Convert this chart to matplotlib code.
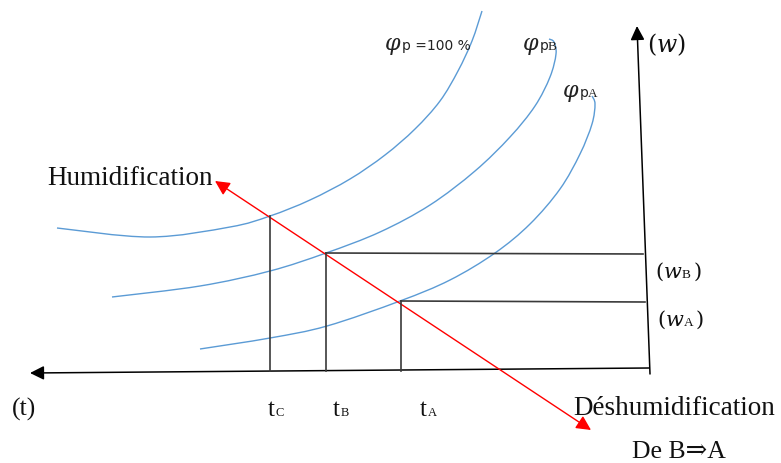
import numpy as np
import matplotlib
matplotlib.use("Agg")
import matplotlib.pyplot as plt
from matplotlib.path import Path
from matplotlib.patches import PathPatch, FancyArrowPatch

plt.rcParams['mathtext.fontset'] = 'dejavuserif'

# ---- data (diagram coordinates, y grows downward) ----
curve_sat_x = [57, 150, 230, 270, 310, 350, 385, 415, 440, 458, 472, 482]
curve_sat_y = [229, 238, 228, 217, 201, 180, 156, 130, 102, 72, 42, 12]

curve_B_x = [112, 200, 270, 326, 380, 430, 475, 510, 535, 550, 556, 554, 549]
curve_B_y = [298, 287, 272, 254, 233, 206, 172, 138, 107, 78, 55, 43, 40]

curve_A_x = [200, 270, 327, 400, 450, 495, 530, 560, 580, 592, 595, 592]
curve_A_y = [350, 339, 327, 302, 281, 254, 225, 190, 155, 125, 105, 97]

t_C, t_B, t_A = 270, 326, 401
w_B, w_A = 254, 302
point_C_y = 217
axis_y = 372
axis_x_right = 649

curve_labels = ["=100 %", "B", "A"]

BLUE = '#5B9BD5'
DARK = '#3a3a3a'
SERIF = ['Liberation Serif', 'DejaVu Serif']

fig = plt.figure(figsize=(7.81, 4.64), dpi=100)
ax = fig.add_axes([0, 0, 1, 1])
ax.set_xlim(0, 781)
ax.set_ylim(464, 0)
ax.axis('off')


def smooth_path(xs, ys):
    P = np.column_stack([xs, ys]).astype(float)
    n = len(P)
    verts = [P[0]]
    codes = [Path.MOVETO]
    for i in range(n - 1):
        p0 = P[i - 1] if i > 0 else P[i]
        p1 = P[i]
        p2 = P[i + 1]
        p3 = P[i + 2] if i + 2 < n else P[i + 1]
        c1 = p1 + (p2 - p0) / 6.0
        c2 = p2 - (p3 - p1) / 6.0
        verts += [c1, c2, p2]
        codes += [Path.CURVE4] * 3
    return Path(verts, codes)


for xs, ys in [(curve_sat_x, curve_sat_y), (curve_B_x, curve_B_y), (curve_A_x, curve_A_y)]:
    ax.add_patch(PathPatch(smooth_path(xs, ys), fill=False, edgecolor=BLUE, lw=1.0))

# axes arrows
ax.add_patch(FancyArrowPatch((axis_x_right, 369), (30, 374), arrowstyle='-|>',
                             mutation_scale=21, color='black', lw=1.1,
                             shrinkA=0, shrinkB=0))
ax.add_patch(FancyArrowPatch((650, 375), (637, 27), arrowstyle='-|>',
                             mutation_scale=21, color='black', lw=1.1,
                             shrinkA=0, shrinkB=0))

# construction lines
ax.plot([t_C, t_C], [point_C_y, axis_y], color=DARK, lw=1.2)
ax.plot([t_B, t_B], [w_B, axis_y], color=DARK, lw=1.2)
ax.plot([t_A, t_A], [w_A, axis_y], color=DARK, lw=1.2)
ax.plot([t_B, 643], [w_B, 255], color=DARK, lw=1.2)
ax.plot([t_A, 645], [w_A, 303], color=DARK, lw=1.2)

# red double arrow
ax.add_patch(FancyArrowPatch((591, 431), (215, 182), arrowstyle='<|-|>',
                             mutation_scale=22, color='#FF0000', lw=1.0,
                             shrinkA=0, shrinkB=0))

# texts
ax.text(47, 185, "Humidification", fontsize=19.5, family=SERIF, color='#111', va='baseline')
ax.text(573, 415, "Déshumidification", fontsize=19.5, family=SERIF, color='#111', va='baseline')
ax.text(632, 458, "De B⇒A", fontsize=18.5, family=SERIF, color='#111', va='baseline')
ax.text(12, 416, "(t)", fontsize=18.5, family=SERIF, color='#111', va='baseline')

for x0, sub in [(268, "C"), (333, "B"), (420, "A")]:
    ax.text(x0, 416, "t", fontsize=18, family=SERIF, color='#111', va='baseline')
    ax.text(x0 + 7.5, 416, sub, fontsize=9, family=SERIF, color='#111', va='baseline')

ax.text(647, 52, r"$(w)$", fontsize=17, color='#111', va='baseline')
for yb, sub, dx in [(278, "B", 0), (326, "A", 2)]:
    ax.text(655 + dx, yb, "(", fontsize=15, family='DejaVu Serif', color='#111', va='baseline')
    ax.text(663 + dx, yb, r"$w$", fontsize=15, color='#111', va='baseline')
    ax.text(682 + dx, yb, sub, fontsize=9.5, family=SERIF, color='#111', va='baseline')
    ax.text(694 + dx, yb, ")", fontsize=15, family='DejaVu Serif', color='#111', va='baseline')

# phi labels
ax.text(384, 50, r"$\varphi$", fontsize=16, color='#222', va='baseline')
ax.text(402, 50, "p " + curve_labels[0], fontsize=10, family='DejaVu Sans', color='#222', va='baseline')
ax.text(522, 50, r"$\varphi$", fontsize=16, color='#222', va='baseline')
ax.text(540, 50, "p", fontsize=10, family='DejaVu Sans', color='#222', va='baseline')
ax.text(548, 50, curve_labels[1], fontsize=9.5, family=SERIF, color='#222', va='baseline')
ax.text(562, 97, r"$\varphi$", fontsize=16, color='#222', va='baseline')
ax.text(580, 97, "p", fontsize=10, family='DejaVu Sans', color='#222', va='baseline')
ax.text(588, 97, curve_labels[2], fontsize=9.5, family=SERIF, color='#222', va='baseline')

fig.savefig("out.png", dpi=100)
